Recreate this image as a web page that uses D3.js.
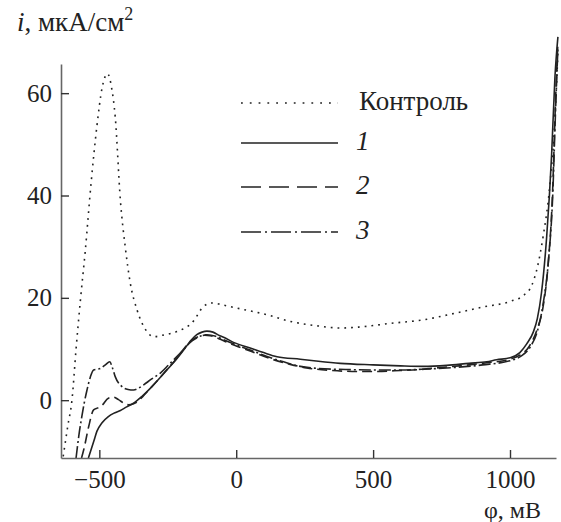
<!DOCTYPE html>
<html>
<head>
<meta charset="utf-8">
<script src="https://cdn.jsdelivr.net/npm/d3@7"></script>
<style>
  body { margin: 0; background: #fff; }
</style>
</head>
<body>
<svg width="561" height="522"></svg>
<script>
// potential, mV and current density, uA/cm2 for each curve
var controlPhi = [-632, -615, -600, -585, -569, -551, -530, -509, -490, -470, -455, -442, -423, -405, -387, -362, -326, -302, -260, -217, -157, -120, -89, -40, 2, 112, 197, 300, 380, 450, 562, 683, 800, 900, 1000, 1050, 1080, 1100, 1121, 1145, 1164, 1175];
var controlI   = [-11, -5, 0, 10, 19.6, 29.4, 42.5, 53.5, 61, 63.8, 61, 55.4, 39, 29.8, 22.9, 17.6, 13.4, 12.4, 12.8, 13.4, 15.4, 18.3, 19, 18.5, 18, 16.7, 15.4, 14.5, 14.1, 14.3, 15, 15.7, 17, 18.2, 19.3, 20.5, 22.5, 26, 32, 41.7, 54.8, 68];

var phi1 = [-540, -520, -509, -490, -467, -445, -423, -400, -375, -345, -314, -285, -253, -220, -192, -165, -144, -125, -107, -85, -60, -46, -10, 51, 100, 149, 234, 300, 380, 500, 600, 683, 769, 850, 915, 951, 1000, 1036, 1061, 1085, 1100, 1115, 1134, 1152, 1164, 1175];
var i1   = [-11.3, -8, -6.1, -4.4, -3.2, -2.5, -2, -1.3, -0.6, 0.7, 2.3, 4, 5.9, 7.9, 9.8, 11.7, 12.8, 13.3, 13.5, 13.3, 12.6, 12.3, 11.3, 10.2, 9.3, 8.5, 8.0, 7.6, 7.2, 6.9, 6.7, 6.6, 6.8, 7.2, 7.5, 7.9, 8.3, 9.3, 11, 13.3, 16, 21, 32, 48, 63, 71];

var phi2 = [-565, -557, -539, -521, -505, -490, -467, -448, -430, -410, -393, -375, -364, -340, -314, -285, -253, -220, -192, -165, -140, -115, -95, -70, -46, 0, 51, 120, 197, 258, 350, 450, 501, 600, 672, 750, 850, 915, 1000, 1036, 1070, 1100, 1120, 1140, 1155, 1166, 1175];
var i2   = [-11.3, -9.7, -5.2, -1.9, -1.5, -1.0, 0.4, 0.6, 0.1, -0.6, -0.9, -0.7, -0.4, 0.8, 2.3, 4, 6, 8, 10, 11.6, 12.4, 12.7, 12.6, 12.2, 11.6, 10.6, 9.6, 8.2, 7, 6.3, 5.8, 5.6, 5.6, 5.8, 6.0, 6.4, 6.9, 7.3, 8.0, 8.8, 10.5, 14, 18, 27, 40, 58, 70];

var phi3 = [-585, -575, -564, -555, -545, -533, -521, -496, -478, -462, -452, -442, -418, -395, -375, -355, -338, -310, -277, -245, -217, -190, -168, -140, -107, -75, -46, 0, 51, 110, 173, 234, 300, 400, 500, 600, 700, 800, 900, 1000, 1040, 1075, 1100, 1120, 1140, 1156, 1166, 1175];
var i3   = [-11.3, -7, -3.2, -0.5, 2, 4.5, 5.9, 6.2, 6.9, 7.5, 6.3, 4.6, 2.7, 2.1, 2, 2.4, 3, 4.1, 5.3, 7, 8.5, 10, 11.3, 12.3, 12.8, 12.5, 11.8, 10.8, 9.8, 8.6, 7.5, 6.6, 6.2, 6.0, 5.9, 5.9, 6.1, 6.4, 6.9, 7.7, 8.6, 10.5, 13.5, 18.5, 27, 40, 56, 69];

var xTicks = [-500, 0, 500, 1000];
var yTicks = [0, 20, 40, 60];
var legendLabels = ["Контроль", "1", "2", "3"];

var FONT = "'Liberation Serif'";

var svg = d3.select("svg");

var x = d3.scaleLinear().domain([-640, 1168]).range([61, 556]);
var y = d3.scaleLinear().domain([-11.3, 65.7]).range([458, 64]);

var line = d3.line()
    .x(function(d) { return x(d[0]); })
    .y(function(d) { return y(d[1]); })
    .curve(d3.curveMonotoneX);

var series = [
  {phi: controlPhi, cur: controlI, dash: "1.8,5", lgDash: "1.8,7"},
  {phi: phi1, cur: i1, dash: null, lgDash: null},
  {phi: phi2, cur: i2, dash: "10,5", lgDash: "20,8"},
  {phi: phi3, cur: i3, dash: "12,3,2,3", lgDash: "20,4,2,4"}
];

series.forEach(function(s) {
  svg.append("path")
     .datum(d3.zip(s.phi, s.cur))
     .attr("fill", "none")
     .attr("stroke", "#222")
     .attr("stroke-width", 1.6)
     .attr("stroke-dasharray", s.dash)
     .attr("d", line);
});

// axes, ticks pointing inward
var xAxis = svg.append("g")
    .attr("transform", "translate(0,458)")
    .call(d3.axisBottom(x).tickValues(xTicks).tickSize(-8).tickSizeOuter(0).tickPadding(13)
      .tickFormat(function(d) { return d < 0 ? "\u2212" + Math.abs(d) : d; }));

var yAxis = svg.append("g")
    .attr("transform", "translate(61,0)")
    .call(d3.axisLeft(y).tickValues(yTicks).tickSize(-8).tickSizeOuter(0).tickPadding(9));

[xAxis, yAxis].forEach(function(a) {
  a.select(".domain").attr("stroke", "#666").attr("stroke-width", 1.6);
  a.selectAll(".tick line").attr("stroke", "#333").attr("stroke-width", 1.4);
  a.selectAll(".tick text").attr("fill", "#222")
   .style("font-family", FONT).style("font-size", "25px");
});
xAxis.selectAll(".tick text").attr("dy", "0.68em");

// axis titles
var yt = svg.append("text").attr("x", 17).attr("y", 31)
    .style("font-family", FONT).style("font-size", "27px").attr("fill", "#222");
yt.append("tspan").style("font-style", "italic").text("i");
yt.append("tspan").text(", мкА/см");
yt.append("tspan").style("font-size", "18px").attr("dy", -11).text("2");

svg.append("text")
   .attr("x", 541).attr("y", 518)
   .attr("text-anchor", "end")
   .style("font-family", FONT)
   .style("font-size", "24px")
   .attr("fill", "#222")
   .text("φ, мВ");

// legend
var legY = [103, 143, 187, 232];
series.forEach(function(s, k) {
  svg.append("line")
     .attr("x1", 241).attr("x2", 338)
     .attr("y1", legY[k]).attr("y2", legY[k])
     .attr("stroke", "#222")
     .attr("stroke-width", 1.6)
     .attr("stroke-dasharray", s.lgDash);
  svg.append("text")
     .attr("x", k === 0 ? 359 : 356)
     .attr("y", legY[k] + 7)
     .style("font-family", FONT)
     .style("font-size", "27px")
     .style("font-style", k === 0 ? null : "italic")
     .attr("fill", "#222")
     .text(legendLabels[k]);
});
</script>
</body>
</html>
